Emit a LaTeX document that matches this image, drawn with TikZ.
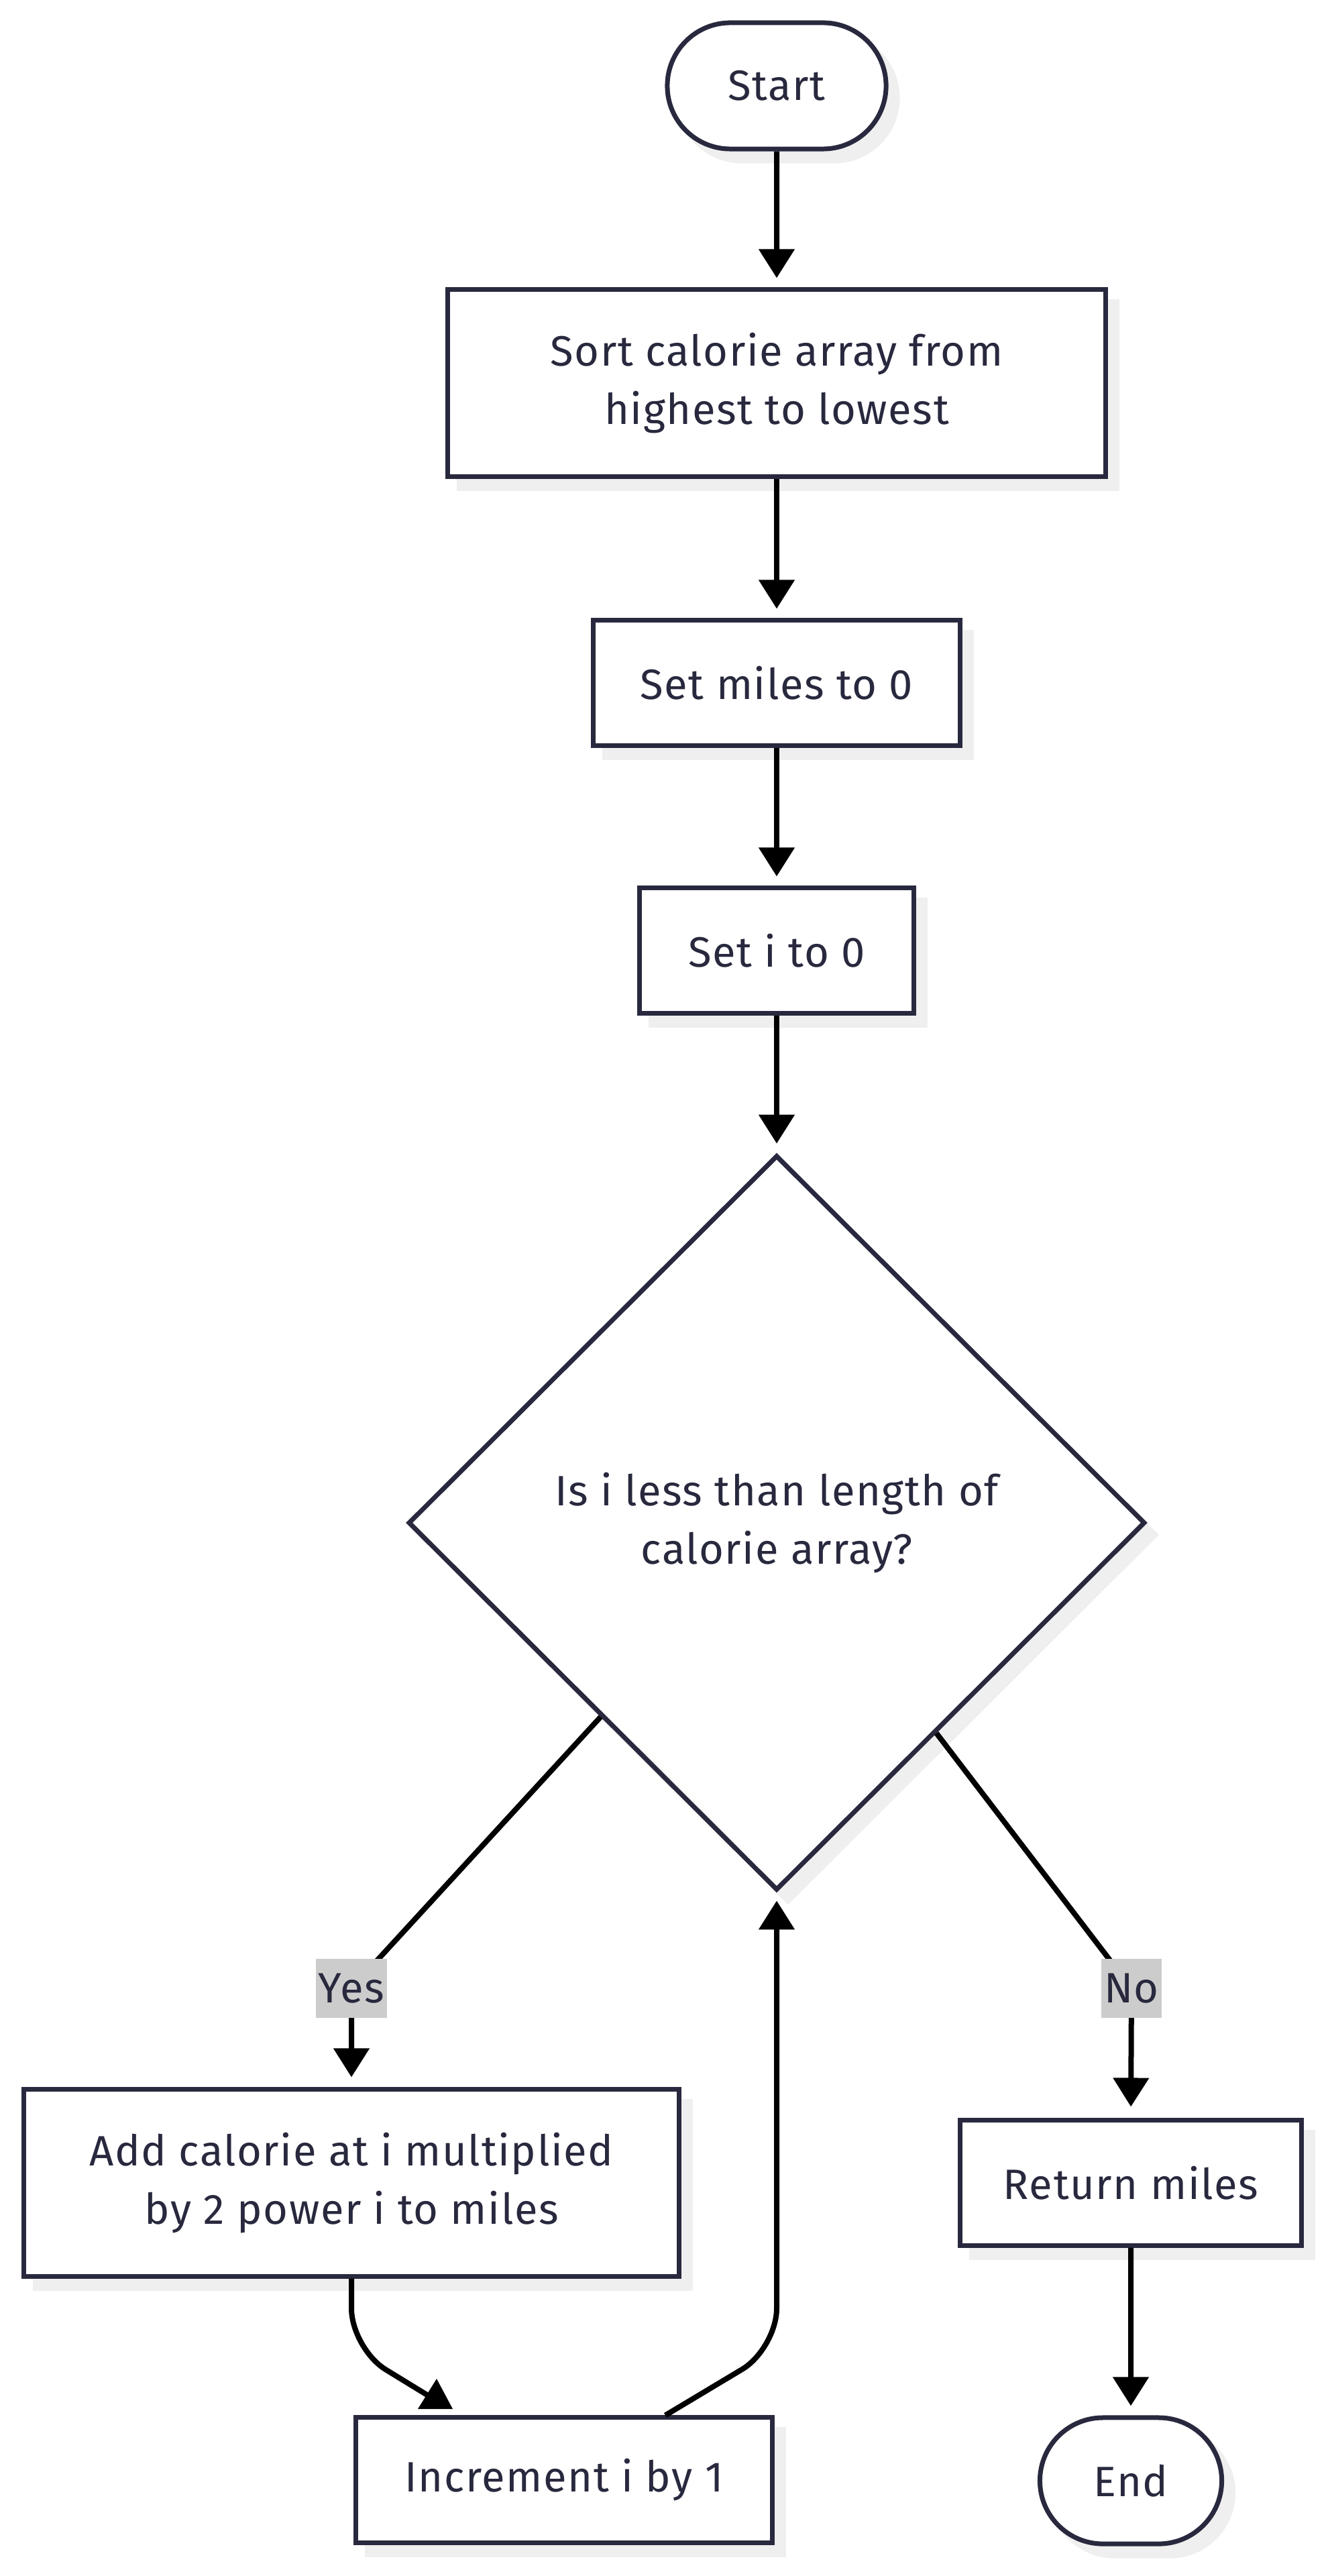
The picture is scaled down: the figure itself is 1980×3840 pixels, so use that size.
\documentclass[tikz,border=0pt]{standalone}
\usepackage{fontspec}
\setmainfont{Fira Sans}[LetterSpace=2.5]
\usetikzlibrary{shapes.geometric,shapes.misc,shadows,calc,arrows.meta}
\definecolor{navy}{RGB}{40,40,62}
\definecolor{shadowgray}{RGB}{239,239,239}
\definecolor{labelgray}{RGB}{204,204,204}
\tikzset{
  txt/.style={text=navy, font=\fontsize{18}{24.5}\selectfont, align=center},
  base/.style={txt, draw=navy, line width=0.07cm, fill=white, inner sep=0pt,
    drop shadow={shadow xshift=0.17cm, shadow yshift=-0.18cm, fill=shadowgray,
      draw=shadowgray, line width=0.07cm, opacity=1}},
  proc/.style={base, rectangle, minimum height=1.86cm},
  term/.style={base, rounded rectangle, minimum height=1.88cm, minimum width=3.26cm},
  dec/.style={base, diamond, aspect=1, minimum width=10.98cm, minimum height=10.95cm},
  plainline/.style={line width=0.08cm, black},
  conn/.style={plainline, -{Triangle[width=0.52cm,length=0.43cm]}},
  lbl/.style={txt, fill=labelgray, inner xsep=0.04cm, inner ysep=0pt, minimum height=0.88cm},
}
\begin{document}
\begin{tikzpicture}[x=0.01cm, y=-0.01cm]
\useasboundingbox (0,0) rectangle (1980,3840);
% nodes
\node[term] (start) at (1158,128) {Start};
\node[proc, minimum width=9.81cm, minimum height=2.78cm] (sort) at (1158,571) {Sort calorie array from\\highest to lowest};
\node[proc, minimum width=5.46cm] (miles) at (1158,1018) {Set miles to 0};
\node[proc, minimum width=4.08cm] (seti) at (1158,1417) {Set i to 0};
\node[dec] (dia) at (1158,2270) {Is i less than length of\\calorie array?};
\node[proc, minimum width=9.77cm, minimum height=2.78cm] (add) at (524,3254) {Add calorie at i multiplied\\by 2 power i to miles};
\node[proc, minimum width=6.21cm] (inc) at (841,3697) {Increment i by 1};
\node[proc, minimum width=5.09cm] (ret) at (1686,3254) {Return miles};
\node[term, minimum width=2.71cm] (end) at (1686,3698) {End};
% coordinates
\coordinate (yesc) at (524,2964);
\coordinate (noc) at (1687,2964);
\coordinate (diaYes) at ($(dia.west)!0.525!(dia.south)$);
\coordinate (diaNo) at ($(dia.east)!0.569!(dia.south)$);
\coordinate (addBend) at (524,3501);
\coordinate (incIn) at (640,3572);
\coordinate (incOut) at ($(inc.north)+(151,0)$);
\coordinate (loopBend) at (1158,3501);
% connectors
\draw[conn, shorten >=0.14cm] (start) -- (sort);
\draw[conn, shorten >=0.14cm] (sort) -- (miles);
\draw[conn, shorten >=0.14cm] (miles) -- (seti);
\draw[conn, shorten >=0.14cm] (seti) -- (dia.north);
\draw[conn, shorten >=0.15cm] (diaYes) -- (yesc) -- (add.north);
\draw[conn, shorten >=0.17cm] (diaNo) -- (noc) -- (ret.north);
\draw[conn, shorten >=0.14cm] (ret) -- (end);
\draw[plainline, rounded corners=0.6cm] (add.south) -- (addBend) -- (incIn);
\fill[black] ($(incIn)+(11,-26)$) -- ($(incIn)+(-17,19)$) -- ($(incIn)+(35,19)$) -- cycle;
\draw[conn, rounded corners=0.6cm, shorten >=0.12cm] (incOut) -- (loopBend) -- (dia.south);
% labels
\node[lbl] (yes) at (yesc) {Yes};
\node[lbl] (no) at (noc) {No};
\end{tikzpicture}
\end{document}
